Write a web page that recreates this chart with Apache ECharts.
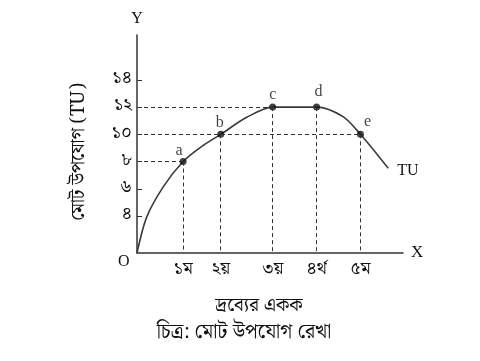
<!DOCTYPE html>
<html>
<head>
<meta charset="utf-8">
<script src="https://cdn.jsdelivr.net/npm/echarts@6/dist/echarts.min.js"></script>
<style>html,body{margin:0;padding:0;background:#fff}#c{width:480px;height:361px}</style>
</head>
<body>
<div id="c"></div>
<script>
// ---- data ----
const unitX = [1.03, 1.87, 3.03, 4.01, 4.99];          // where the 1st..5th unit sit on the x axis
const unitLabels = ['১ম', '২য়', '৩য়', '৪র্থ', '৫ম'];
const tuValues = [8, 10, 12, 12, 10];
const pointNames = ['a', 'b', 'c', 'd', 'e'];
const curveX = [0, 0.22, 0.59, 1.03, 1.44, 1.87, 2.45, 3.03, 4.01, 4.6, 4.99, 5.61];
const curveY = [1.28, 3.95, 6.16, 8, 9.1, 10, 11.25, 12, 12, 11.3, 10, 7.5];
const yTickValues = [4, 6, 8, 10, 12, 14];
const yTickLabels = ['৪', '৬', '৮', '১০', '১২', '১৪'];
const yTitle = 'মোট উপযোগ (TU)';
const xTitle = 'দ্রব্যের একক';
const caption = 'চিত্র: মোট উপযোগ রেখা';
const curveName = 'TU';

const Y_MIN = 1.28, Y_MAX = 17.3, X_MAX = 5.94;
const BN = '"Noto Serif Bengali","Noto Sans Bengali","Lohit Bengali","FreeSerif",serif';
const SERIF = '"Liberation Serif","DejaVu Serif",serif';
const labelNudge = [[-4, 3], [-1, 2], [0, 1], [2, -2], [7, 1]];   // label styling only

const chart = echarts.init(document.getElementById('c'));

const curveData = curveX.map((x, i) => [x, curveY[i]]);
const pointData = unitX.map((u, i) => ({
  value: [u, tuValues[i]], name: pointNames[i],
  label: { offset: labelNudge[i] }
}));

const dashLines = [];
unitX.forEach((u, i) => {
  dashLines.push([{ coord: [0, tuValues[i]] }, { coord: [u, tuValues[i]] }]);
  dashLines.push([{ coord: [u, tuValues[i]] }, { coord: [u, Y_MIN] }]);
});

chart.setOption({
  animation: false,
  backgroundColor: '#fff',
  grid: { left: 137, right: 77, top: 35, bottom: 108 },
  xAxis: {
    type: 'value', min: 0, max: X_MAX,
    name: 'X', nameLocation: 'end', nameGap: 8,
    nameTextStyle: { fontFamily: SERIF, fontSize: 17, color: '#111', verticalAlign: 'middle', padding: [6, 0, 0, 0] },
    axisLine: { show: true, onZero: false, lineStyle: { color: '#333', width: 1.5 } },
    axisTick: { show: false },
    splitLine: { show: false },
    axisLabel: {
      customValues: unitX,
      formatter: v => unitLabels[unitX.indexOf(v)] || '',
      fontFamily: BN, fontSize: 18, color: '#111', margin: 9
    }
  },
  yAxis: {
    type: 'value', min: Y_MIN, max: Y_MAX,
    name: 'Y', nameLocation: 'end', nameGap: 8,
    nameTextStyle: { fontFamily: SERIF, fontSize: 16, color: '#111', align: 'center' },
    axisLine: { show: true, onZero: false, lineStyle: { color: '#333', width: 1.5 } },
    axisTick: { show: true, inside: true, length: 5, customValues: yTickValues, lineStyle: { color: '#333' } },
    splitLine: { show: false },
    axisLabel: {
      customValues: yTickValues,
      formatter: v => yTickLabels[yTickValues.indexOf(v)] || '',
      fontFamily: BN, fontSize: 18, color: '#111', margin: 5
    }
  },
  series: [
    {
      type: 'line', data: curveData, smooth: 0.3, symbol: 'none',
      lineStyle: { color: '#3a3a3a', width: 1.6 },
      markLine: {
        silent: true, symbol: 'none', animation: false,
        lineStyle: { color: '#333', width: 1, type: [4, 3] },
        label: { show: false },
        data: dashLines
      },
      endLabel: {
        show: true, formatter: curveName, fontFamily: SERIF, fontSize: 16, color: '#111', distance: 9, offset: [0, 2]
      },
      z: 3
    },
    {
      type: 'scatter', data: pointData, symbolSize: 7,
      itemStyle: { color: '#111' },
      label: {
        show: true, position: 'top', distance: 2, formatter: p => p.name,
        fontFamily: SERIF, fontSize: 16, color: '#111'
      },
      z: 4
    }
  ],
  graphic: [
    { type: 'text', left: 118, top: 254, style: { text: 'O', font: '16px ' + SERIF, fill: '#111' } },
    { type: 'text', x: 80, y: 152, rotation: Math.PI / 2,
      style: { text: yTitle, font: '19px ' + BN, fill: '#111', align: 'center', verticalAlign: 'middle' } },
    { type: 'text', x: 259, y: 307,
      style: { text: xTitle, font: '19px ' + BN, fill: '#111', align: 'center', verticalAlign: 'middle' } },
    { type: 'text', x: 244, y: 334,
      style: { text: caption, font: '20px ' + BN, fill: '#111', align: 'center', verticalAlign: 'middle' } }
  ]
});
</script>
</body>
</html>
